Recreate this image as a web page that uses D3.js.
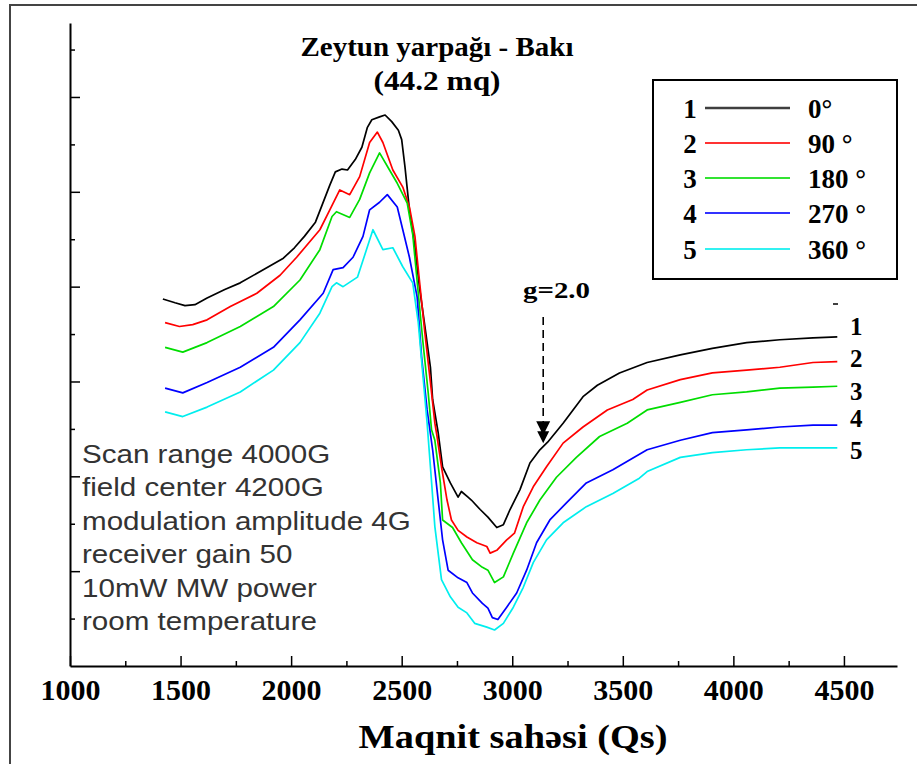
<!DOCTYPE html>
<html><head><meta charset="utf-8">
<script src="https://cdn.jsdelivr.net/npm/d3@7"></script>
<style>body{margin:0;background:#fff}svg{display:block}</style>
</head><body>
<script>
// ---- data (field in Gs, intensity in arbitrary units) ----
const fieldTicks = [1000,1500,2000,2500,3000,3500,4000,4500];
const fieldMinor = [1250,1750,2250,2750,3250,3750,4250];
const intensityTicks = [100,200,300,400,500,600];
const intensityMinor = [50,150,250,350,450,550,650];
const seriesNames = ["1","2","3","4","5"];
const seriesLabels = ["0°","90 °","180 °","270 °","360 °"];
const seriesColors = ["#000000","#ff0000","#00dd00","#0000ff","#00eeee"];

const s1 = [[1420,387],[1475,383],[1520,380],[1565,381],[1620,388],[1700,397],[1770,404],[1860,416],[1965,430],[2015,441],[2060,453],[2110,468],[2140,486],[2175,507],[2200,521],[2230,524],[2255,523],[2290,534],[2320,547],[2345,568],[2365,576],[2400,579],[2425,581],[2455,574],[2485,565],[2500,555],[2515,526],[2535,481],[2560,442],[2580,400],[2605,358],[2630,315],[2640,281],[2665,246],[2685,210],[2720,193],[2755,178],[2770,184],[2800,178],[2815,175],[2855,165],[2890,157],[2930,146],[2960,149],[2990,165],[3035,186],[3080,214],[3125,228],[3160,236],[3230,256],[3320,284],[3385,296],[3485,309],[3610,320],[3760,328],[3905,335],[4060,341],[4210,344],[4360,346],[4470,347]];
const s2 = [[1430,362],[1495,358],[1555,360],[1620,365],[1725,379],[1845,393],[1950,412],[2025,431],[2130,460],[2175,481],[2220,502],[2265,497],[2310,516],[2355,552],[2390,563],[2415,552],[2460,523],[2505,505],[2535,484],[2560,453],[2580,407],[2605,351],[2630,299],[2650,256],[2660,242],[2680,210],[2705,175],[2725,154],[2755,143],[2795,136],[2840,130],[2885,126],[2900,119],[2930,122],[2975,133],[3010,140],[3050,168],[3095,189],[3155,210],[3230,235],[3320,252],[3430,270],[3545,281],[3610,291],[3760,302],[3905,309],[4060,312],[4210,315],[4360,320],[4470,321]];
const s3 = [[1430,336],[1510,331],[1620,341],[1770,358],[1920,379],[2040,407],[2130,439],[2185,474],[2205,479],[2265,473],[2310,492],[2355,520],[2400,541],[2445,523],[2480,509],[2525,488],[2550,455],[2575,393],[2595,344],[2620,288],[2635,249],[2650,238],[2675,193],[2685,154],[2730,146],[2770,130],[2820,112],[2865,104],[2890,101],[2920,88],[2960,94],[3005,119],[3065,151],[3125,175],[3200,199],[3290,220],[3395,242],[3520,256],[3610,270],[3760,278],[3905,286],[4060,289],[4210,293],[4360,294],[4470,295]];
const s4 = [[1430,293],[1510,288],[1620,299],[1770,315],[1920,336],[2040,365],[2145,393],[2190,418],[2235,420],[2280,431],[2325,453],[2355,481],[2400,489],[2435,497],[2480,484],[2505,460],[2535,431],[2570,389],[2590,326],[2615,270],[2640,228],[2665,175],[2685,133],[2710,101],[2755,93],[2795,88],[2820,77],[2865,66],[2890,61],[2910,51],[2935,49],[2975,62],[3020,77],[3065,101],[3110,130],[3170,154],[3245,172],[3335,193],[3455,207],[3610,228],[3760,238],[3905,246],[4060,249],[4210,252],[4360,254],[4470,254]];
const s5 = [[1430,268],[1510,263],[1620,273],[1770,289],[1920,312],[2040,341],[2130,372],[2185,400],[2205,404],[2235,400],[2300,410],[2345,442],[2370,460],[2415,439],[2460,441],[2505,421],[2550,404],[2575,362],[2595,309],[2615,256],[2630,210],[2650,147],[2680,91],[2720,73],[2755,62],[2795,56],[2830,45],[2885,41],[2920,38],[2960,45],[3005,62],[3050,83],[3095,109],[3155,133],[3230,151],[3335,168],[3455,182],[3575,198],[3610,205],[3760,220],[3905,225],[4060,228],[4210,230],[4360,230],[4470,230]];
const allSeries = [s1,s2,s3,s4,s5];
const endLabelValues = [358,324,290,261,227];

const titleLines = ["Zeytun yarpağı - Bakı","(44.2 mq)"];
const xTitle = "Maqnit sahəsi (Qs)";
const gLabel = "g=2.0";
const gField = 3140;
const gArrow = [368,235];
const notes = ["Scan range 4000G","field center 4200G","modulation amplitude 4G","receiver gain 50","10mW MW power","room temperature"];

// ---- layout ----
const W = 917, H = 764;
const svg = d3.select("body").append("svg").attr("width",W).attr("height",H);
const serif = "'Liberation Serif','Times New Roman',serif";
const sans = "'Liberation Sans',Arial,sans-serif";

// frame
svg.append("path").attr("d",`M10,${H}V5H${W}`).attr("fill","none").attr("stroke","#444").attr("stroke-width",2);

const x = d3.scaleLinear().domain([1000,4740]).range([70,897]);
const y = d3.scaleLinear().domain([0,678]).range([666,23]);

// x axis
const gx = svg.append("g").attr("transform","translate(0,666)");
gx.call(d3.axisBottom(x).tickValues(fieldTicks).tickSizeInner(-10).tickSizeOuter(0).tickPadding(13).tickFormat(d3.format("d")));
gx.selectAll("text").attr("font-family",serif).attr("font-weight","bold").attr("font-size",30).attr("fill","#000");
gx.select(".domain").attr("stroke-width",2);
gx.selectAll(".tick line").attr("stroke-width",1.5);
const gxm = svg.append("g").attr("transform","translate(0,666)");
gxm.call(d3.axisBottom(x).tickValues(fieldMinor).tickSizeInner(-5).tickSizeOuter(0).tickFormat(""));
gxm.select(".domain").remove();
gxm.selectAll(".tick line").attr("stroke-width",1.5);

// y axis
const gy = svg.append("g").attr("transform","translate(70,0)");
gy.call(d3.axisRight(y).tickValues(intensityTicks).tickSizeInner(10).tickSizeOuter(0).tickFormat(""));
gy.select(".domain").attr("stroke-width",2);
gy.selectAll(".tick line").attr("stroke-width",1.5);
const gym = svg.append("g").attr("transform","translate(70,0)");
gym.call(d3.axisRight(y).tickValues(intensityMinor).tickSizeInner(5).tickSizeOuter(0).tickFormat(""));
gym.select(".domain").remove();
gym.selectAll(".tick line").attr("stroke-width",1.5);

// curves
const line = d3.line().x(d=>x(d[0])).y(d=>y(d[1])).curve(d3.curveLinear);
allSeries.forEach((s,i)=>{
  svg.append("path").datum(s).attr("d",line).attr("fill","none")
    .attr("stroke",seriesColors[i]).attr("stroke-width",1.7).attr("stroke-linejoin","round");
});

// end labels
endLabelValues.forEach((v,i)=>{
  svg.append("text").attr("x",850).attr("y",y(v)).attr("dy","0.35em")
    .attr("font-family",serif).attr("font-weight","bold").attr("font-size",25).text(seriesNames[i]);
});
svg.append("line").attr("x1",833).attr("x2",838).attr("y1",304).attr("y2",304).attr("stroke","#000").attr("stroke-width",1.5);

// title
svg.append("text").attr("x",437).attr("y",56).attr("text-anchor","middle").attr("font-family",serif)
  .attr("font-weight","bold").attr("font-size",27).attr("textLength",273).attr("lengthAdjust","spacingAndGlyphs").text(titleLines[0]);
svg.append("text").attr("x",437).attr("y",90).attr("text-anchor","middle").attr("font-family",serif)
  .attr("font-weight","bold").attr("font-size",27).attr("textLength",127).attr("lengthAdjust","spacingAndGlyphs").text(titleLines[1]);

// x title
svg.append("text").attr("x",513).attr("y",748).attr("text-anchor","middle").attr("font-family",serif)
  .attr("font-weight","bold").attr("font-size",34).attr("textLength",309).attr("lengthAdjust","spacingAndGlyphs").text(xTitle);

// legend
const lg = svg.append("g");
lg.append("rect").attr("x",653).attr("y",80).attr("width",244).attr("height",199).attr("fill","#fff").attr("stroke","#000").attr("stroke-width",2);
const rowY = [108,143,178,213,249];
seriesNames.forEach((n,i)=>{
  lg.append("text").attr("x",690).attr("y",rowY[i]+10).attr("text-anchor","middle").attr("font-family",serif)
    .attr("font-weight","bold").attr("font-size",27).text(n);
  lg.append("line").attr("x1",705).attr("x2",790).attr("y1",rowY[i]).attr("y2",rowY[i])
    .attr("stroke",seriesColors[i]).attr("stroke-width",i===0?2.5:2).attr("opacity",i===0?0.75:0.8);
  lg.append("text").attr("x",808).attr("y",rowY[i]+10).attr("font-family",serif)
    .attr("font-weight","bold").attr("font-size",27).text(seriesLabels[i]);
});

// g=2.0 marker
svg.append("text").attr("x",523).attr("y",298).attr("font-family",serif).attr("font-weight","bold")
  .attr("font-size",23).attr("textLength",67).attr("lengthAdjust","spacingAndGlyphs").text(gLabel);
svg.append("line").attr("x1",x(gField)).attr("x2",x(gField)).attr("y1",y(gArrow[0])).attr("y2",y(gArrow[1])-18)
  .attr("stroke","#000").attr("stroke-width",1.6).attr("stroke-dasharray","8,5");
const ax = x(gField), ay = y(gArrow[1]);
svg.append("path").attr("d",`M${ax-7},${ay-22}L${ax+7},${ay-22}L${ax},${ay-8}Z M${ax-6},${ay-12}L${ax+6},${ay-12}L${ax},${ay}Z`).attr("fill","#000");

// notes
const ng = svg.append("g").attr("transform","translate(82,0) scale(1.16,1)");
notes.forEach((t,i)=>{
  ng.append("text").attr("x",0).attr("y",463+i*33.4).attr("font-family",sans).attr("font-size",25.5)
    .attr("fill","#333").text(t);
});
</script>
</body></html>
